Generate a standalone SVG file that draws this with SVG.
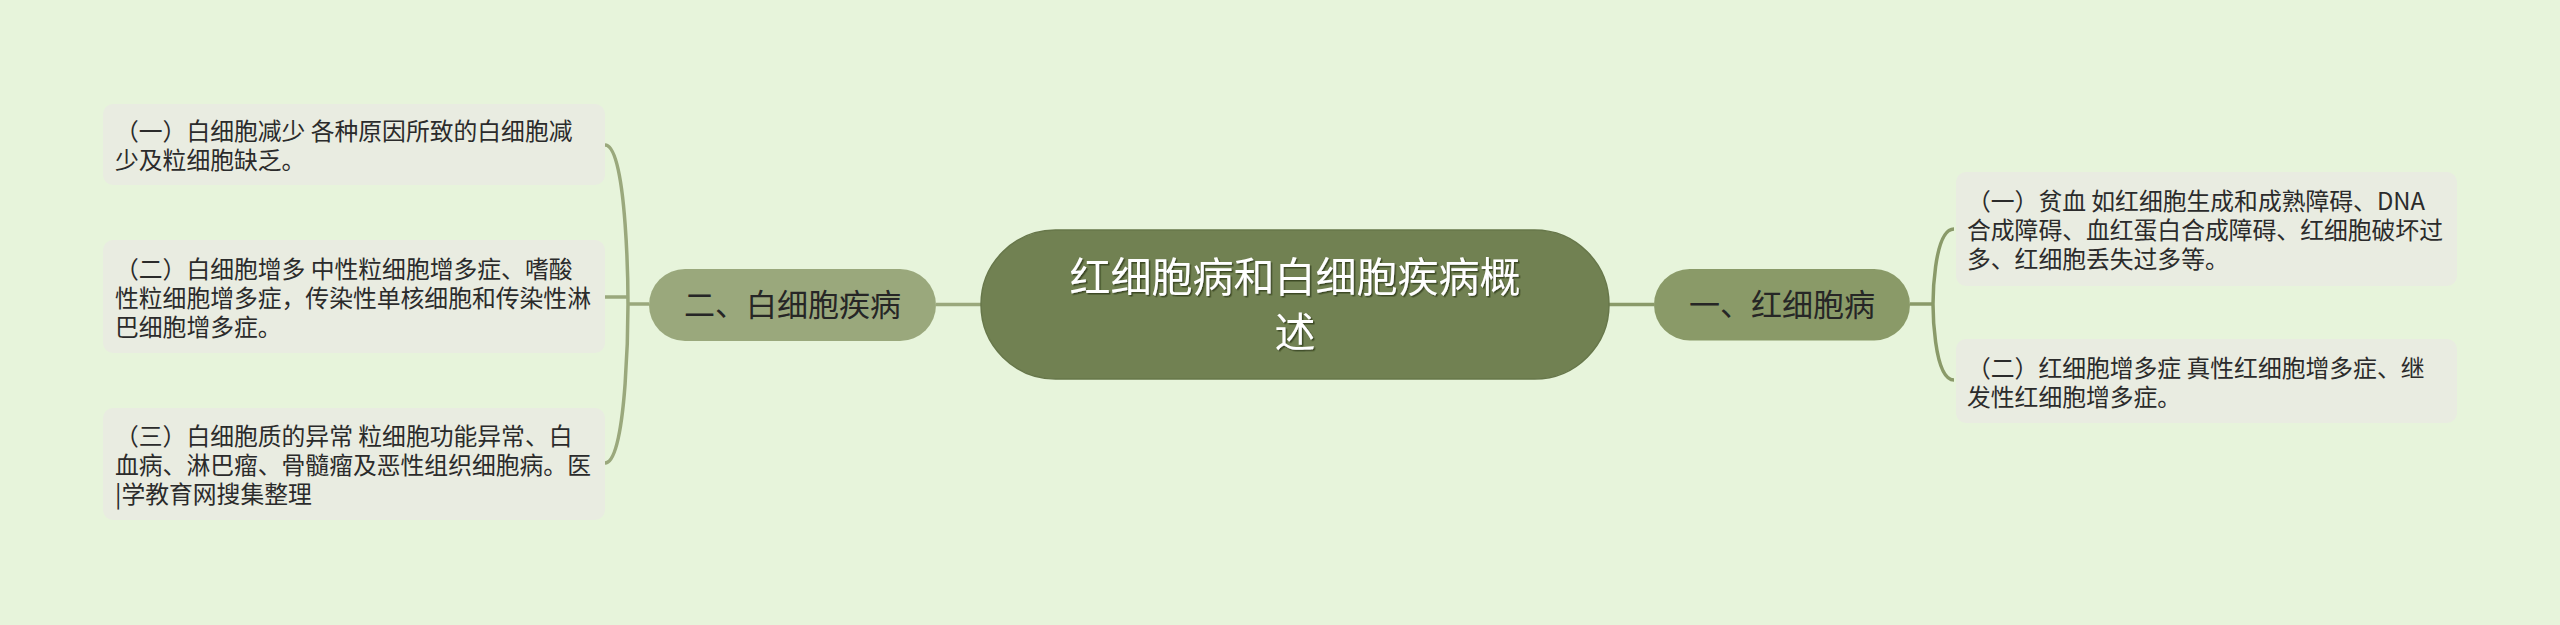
<svg xmlns="http://www.w3.org/2000/svg" width="2560" height="625" viewBox="0 0 2560 625">
<defs>
<style>
.bg{fill:#e7f4db}
.leaf rect{fill:#e9ece1}
.leaf text{font-family:"Noto Sans CJK SC","Noto Sans",sans-serif;font-size:23.8px;fill:#2b2b2b}
.l1 text{font-family:"Noto Sans CJK SC","Noto Sans",sans-serif;font-size:31px;fill:#262626;text-anchor:middle}
.root text{font-family:"Noto Sans CJK SC","Noto Sans",sans-serif;font-size:41px;fill:#ffffff;text-anchor:middle}
.cl{fill:none;stroke:#9aa87c;stroke-width:3.5}
.cr{fill:none;stroke:#8a9a69;stroke-width:3.5}
</style>
<filter id="sh" x="-10%" y="-20%" width="120%" height="140%">
<feDropShadow dx="1.5" dy="1.5" stdDeviation="0.6" flood-color="#2f3a1f" flood-opacity="0.8"/>
</filter>
</defs>
<rect class="bg" x="0" y="0" width="2560" height="625"/>

<g id="connectors">
<line class="cl" x1="936" y1="304.5" x2="981" y2="304.5"/>
<line class="cr" x1="1609" y1="304.5" x2="1654" y2="304.5"/>
<line class="cl" x1="649" y1="304" x2="627" y2="304"/>
<path class="cl" d="M605,145 C628,145 628,304 628,304"/>
<path class="cl" d="M605,463 C628,463 628,304 628,304"/>
<line class="cl" x1="605" y1="297" x2="628" y2="297"/>
<line class="cr" x1="1910" y1="304" x2="1934" y2="304"/>
<path class="cr" d="M1954,229 C1933,229 1933,304 1933,304"/>
<path class="cr" d="M1954,380 C1933,380 1933,304 1933,304"/>
</g>

<g id="root" class="root">
<rect x="981" y="230" width="628" height="149" rx="74.5" fill="#718152" stroke="#67774a" stroke-width="1.5"/>
<g filter="url(#sh)">
<text x="1295" y="292">红细胞病和白细胞疾病概</text>
<text x="1295" y="347">述</text>
</g>
</g>

<g id="node-red" class="l1">
<rect x="1654" y="269" width="256" height="71.5" rx="35.75" fill="#8a9a68"/>
<text x="1782" y="316">一、红细胞病</text>
</g>

<g id="node-white" class="l1">
<rect x="649" y="269" width="287" height="72" rx="36" fill="#9aa87c"/>
<text x="792.5" y="316">二、白细胞疾病</text>
</g>

<g id="leaf-r1" class="leaf">
<rect x="1956" y="172" width="501" height="114" rx="10"/>
<text x="1967" y="210">（一）贫血 如红细胞生成和成熟障碍、DNA</text>
<text x="1967" y="239">合成障碍、血红蛋白合成障碍、红细胞破坏过</text>
<text x="1967" y="268">多、红细胞丢失过多等。</text>
</g>

<g id="leaf-r2" class="leaf">
<rect x="1956" y="339" width="501" height="84" rx="10"/>
<text x="1967" y="376.5">（二）红细胞增多症 真性红细胞增多症、继</text>
<text x="1967" y="405.5">发性红细胞增多症。</text>
</g>

<g id="leaf-w1" class="leaf">
<rect x="103" y="104" width="502" height="81" rx="10"/>
<text x="115" y="140">（一）白细胞减少 各种原因所致的白细胞减</text>
<text x="115" y="169">少及粒细胞缺乏。</text>
</g>

<g id="leaf-w2" class="leaf">
<rect x="103" y="240" width="502" height="113" rx="10"/>
<text x="115" y="277.5">（二）白细胞增多 中性粒细胞增多症、嗜酸</text>
<text x="115" y="306.5">性粒细胞增多症，传染性单核细胞和传染性淋</text>
<text x="115" y="335.5">巴细胞增多症。</text>
</g>

<g id="leaf-w3" class="leaf">
<rect x="103" y="408" width="502" height="112" rx="10"/>
<text x="115" y="445">（三）白细胞质的异常 粒细胞功能异常、白</text>
<text x="115" y="474">血病、淋巴瘤、骨髓瘤及恶性组织细胞病。医</text>
<text x="115" y="503">|学教育网搜集整理</text>
</g>
</svg>
